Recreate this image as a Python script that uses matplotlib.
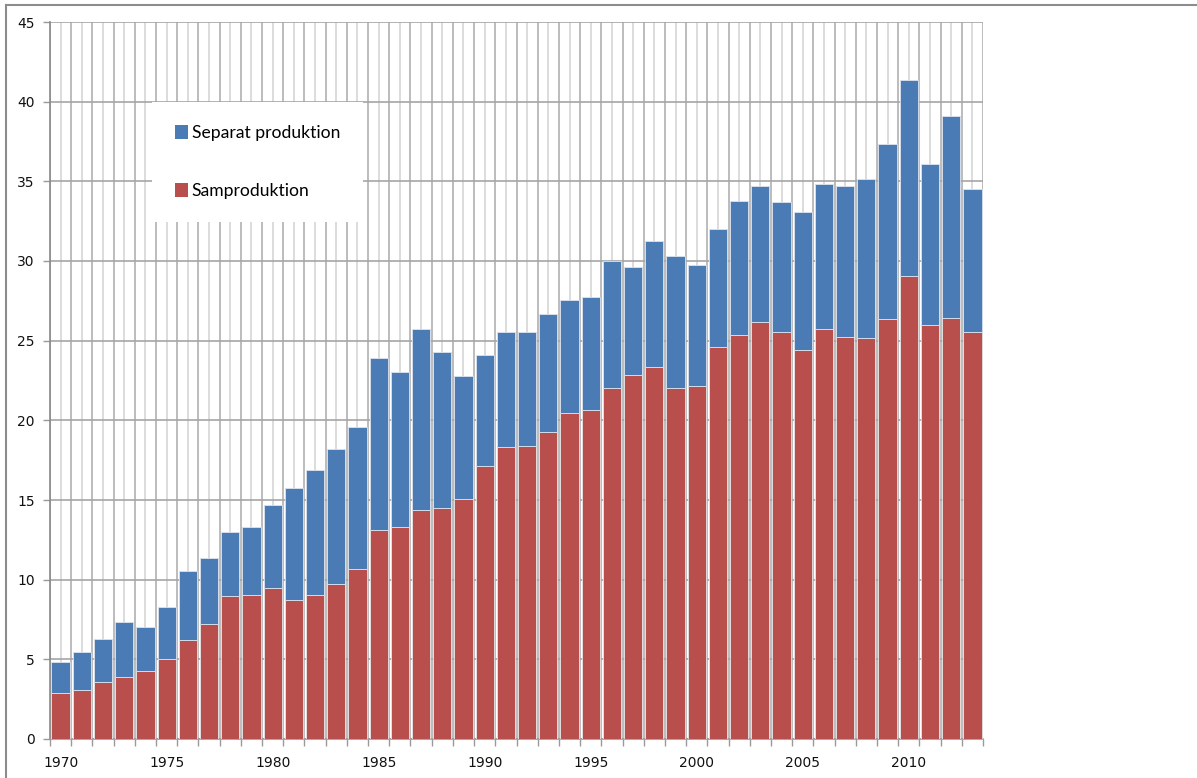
import numpy as np
import matplotlib
matplotlib.use("Agg")
import matplotlib.pyplot as plt
from matplotlib.lines import Line2D

years = list(range(1970, 2014))
samproduktion = [2.87, 3.08, 3.60, 3.91, 4.29, 5.00, 6.21, 7.22, 8.96, 9.04,
                 9.50, 8.75, 9.04, 9.75, 10.70, 13.14, 13.30, 14.40, 14.52, 15.06,
                 17.14, 18.32, 18.36, 19.28, 20.44, 20.63, 22.01, 22.83, 23.37, 22.05,
                 22.14, 24.58, 25.36, 26.20, 25.53, 24.44, 25.74, 25.21, 25.15, 26.36,
                 29.06, 25.97, 26.43, 25.53]
separat = [1.96, 2.36, 2.68, 3.45, 2.76, 3.26, 4.36, 4.12, 4.04, 4.26,
           5.19, 7.00, 7.87, 8.45, 8.87, 10.75, 9.75, 11.32, 9.75, 7.74,
           6.93, 7.21, 7.16, 7.39, 7.13, 7.11, 8.01, 6.81, 7.89, 8.28,
           7.59, 7.44, 8.38, 8.53, 8.15, 8.61, 9.07, 9.52, 9.98, 10.97,
           12.28, 10.14, 12.67, 8.99]
series_labels = ["Separat produktion", "Samproduktion"]
yticks = [0, 5, 10, 15, 20, 25, 30, 35, 40, 45]

BLUE = "#4A7BB5"
RED = "#B94F4C"

fig = plt.figure(figsize=(11.97, 7.78), dpi=100)
ax = fig.add_axes([50/1197, 1-739/778, 933/1197, 717/778])

x = np.arange(len(years))
b_red = ax.bar(x, samproduktion, width=0.86, color=RED, edgecolor="#e6e6e6",
               linewidth=0.6, zorder=3, label=series_labels[1])
b_blue = ax.bar(x, separat, bottom=samproduktion, width=0.86, color=BLUE,
                edgecolor="#dde3ee", linewidth=0.6, zorder=3, label=series_labels[0])

ax.set_xlim(-0.5, len(years) - 0.5)
ax.set_ylim(0, 45)
ax.set_yticks(yticks)
ax.set_yticklabels([str(v) for v in yticks])

# major ticks at category boundaries, minor at centers (labels every 5 years)
ax.set_xticks(np.arange(-0.5, len(years), 1.0))
ax.set_xticklabels([])
ax.set_xticks(x, minor=True)
ax.set_xticklabels([str(y) if y % 5 == 0 else "" for y in years], minor=True)

ax.tick_params(axis="x", which="major", length=5, width=1, color="#9a9a9a", direction="out")
ax.tick_params(axis="x", which="minor", length=0, pad=12, labelsize=10, labelcolor="#111111")
ax.tick_params(axis="y", length=5, width=1, color="#9a9a9a", pad=6, labelsize=10, labelcolor="#111111")

ax.grid(axis="y", which="major", color="#a5a5a5", linewidth=1.2, zorder=0)
ax.grid(axis="x", which="major", color="#b0b0b0", linewidth=1.2, zorder=0)
ax.grid(axis="x", which="minor", color="#d6d6d6", linewidth=1.2, zorder=0)
ax.set_axisbelow(True)

for s in ["top", "right"]:
    ax.spines[s].set_visible(False)
ax.spines["left"].set_color("#8a8a8a")
ax.spines["left"].set_linewidth(1.2)
ax.spines["bottom"].set_color("#9a9a9a")
ax.spines["bottom"].set_linewidth(1.2)

leg = ax.legend(handles=[b_blue, b_red], labels=series_labels,
                loc="upper left", bbox_to_anchor=(0.1095, 0.888),
                frameon=True, fancybox=False, framealpha=1, facecolor="white",
                edgecolor="none", prop={"family": "Lato", "size": 12.6},
                handlelength=0.75, handleheight=0.8, handletextpad=0.2,
                labelspacing=2.4, borderpad=1.3, borderaxespad=0)
leg.set_zorder(5)
for h in leg.legend_handles:
    h.set_edgecolor("none")

fig.add_artist(Line2D([6/1197, 1], [1-5/778, 1-5/778], color="#8c8c8c", linewidth=1.5))
fig.add_artist(Line2D([6/1197, 6/1197], [0, 1-5/778], color="#8c8c8c", linewidth=1.5))

fig.savefig("out.png", dpi=100, facecolor="white")
